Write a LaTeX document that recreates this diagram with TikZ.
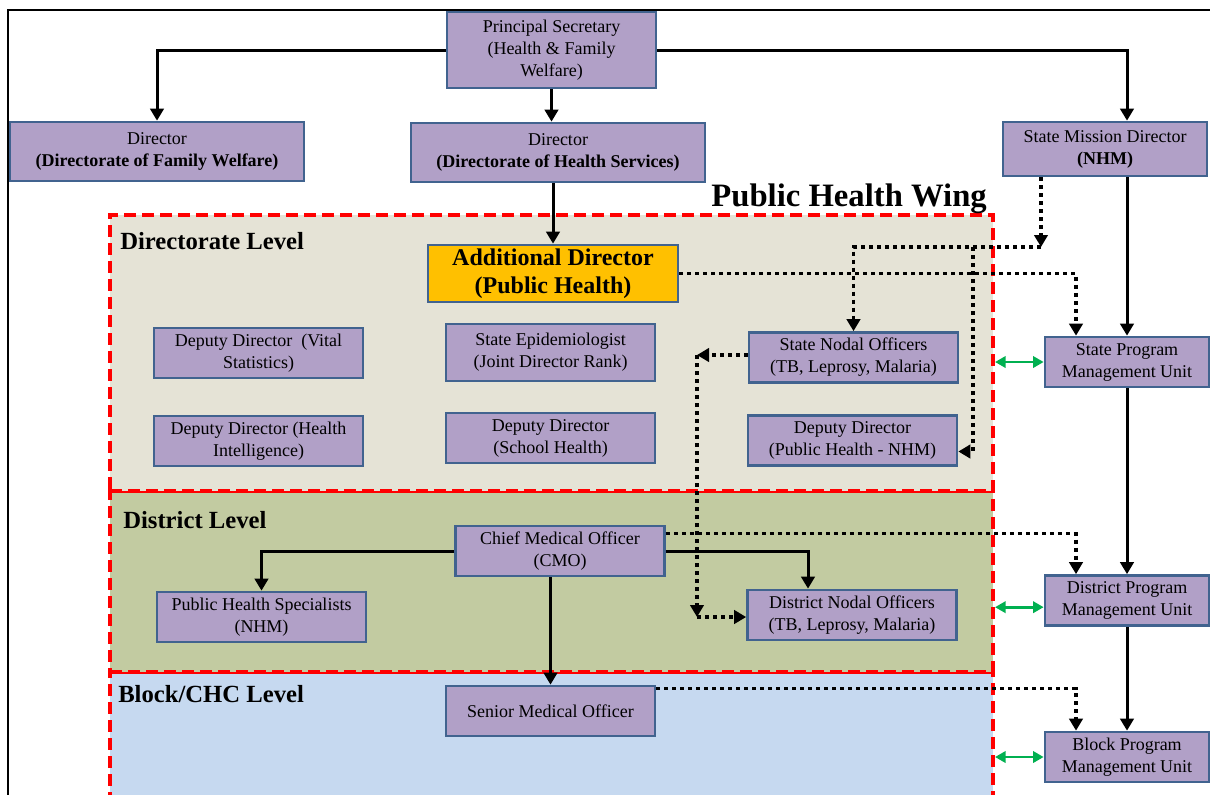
\documentclass[tikz,border=0pt]{standalone}
\usepackage{fontspec}
\setmainfont{Liberation Serif}
\usetikzlibrary{arrows.meta}

\definecolor{boxfill}{RGB}{177,160,199}
\definecolor{boxline}{RGB}{65,99,143}
\definecolor{adirfill}{RGB}{255,192,0}
\definecolor{dirfill}{RGB}{229,227,214}
\definecolor{distfill}{RGB}{194,203,161}
\definecolor{blockfill}{RGB}{198,217,240}
\definecolor{linkgreen}{RGB}{0,176,80}

\tikzset{
  office/.style={draw=boxline, fill=boxfill, line width=2pt, align=center, inner sep=1pt,
    font=\fontsize{13.5}{16.5}\selectfont, minimum width=156.75pt, minimum height=37.5pt},
  pmu/.style={office, minimum width=123pt},
  level/.style={draw=red, line width=3pt, dash pattern=on 9pt off 4.5pt, inner sep=0pt,
    minimum width=662.25pt},
  lvltext/.style={font=\fontsize{18.5}{22}\selectfont\bfseries, inner sep=0pt},
  wingtext/.style={font=\fontsize{24.5}{29}\selectfont\bfseries, inner sep=0pt},
  link/.style={line width=2.25pt, -{Triangle[length=9pt,width=10pt]}},
  dotlink/.style={line width=2.5pt, dash pattern=on 3pt off 3pt, -{Triangle[length=9pt,width=10pt]}},
  twoway/.style={draw=linkgreen, line width=2pt, {Triangle[length=8pt,width=8.5pt]}-{Triangle[length=8pt,width=8.5pt]}}
}

\begin{document}
\begin{tikzpicture}[x=0.75pt,y=-0.75pt]
\useasboundingbox (0,0) rectangle (1210,794);
\clip (0,0) rectangle (1210,794);

% frame
\draw[line width=1.2pt] (8,800) -- (8,10) -- (1215,10);

% levels of the public health wing
\node[level, fill=blockfill, minimum height=111pt] (blocklvl) at (551.5,746) {};
\node[level, fill=distfill, minimum height=135.75pt] (distlvl) at (551.5,581.5) {};
\node[level, fill=dirfill, minimum height=207pt] (dirlvl) at (551.5,353) {};
\node[lvltext, anchor=west] (dirlbl) at (120,241) {Directorate Level};
\node[lvltext, anchor=west] (distlbl) at (123,520) {District Level};
\node[lvltext, anchor=west] (blocklbl) at (118,694) {Block/CHC Level};
\node[wingtext, anchor=base east] (winglbl) at (987,206) {Public Health Wing};

% offices
\node[office, minimum height=57pt] (ps) at (551.5,50) {Principal Secretary\\(Health \& Family\\Welfare)};
\node[office, minimum width=220.5pt, minimum height=44.25pt] (dfw) at (157,151.5) {Director\\\textbf{(Directorate of Family Welfare)}};
\node[office, minimum width=220.5pt, minimum height=44.25pt] (dhs) at (558,152.5) {Director\\\textbf{(Directorate of Health Services)}};
\node[office, minimum width=153pt, minimum height=40.5pt] (smd) at (1105,149) {State Mission Director\\\textbf{(NHM)}};
\node[office, fill=adirfill, minimum width=187.5pt, minimum height=42.75pt,
  font=\fontsize{18}{21}\selectfont\bfseries] (adir) at (553,273.5) {Additional Director\\(Public Health)};
\node[office] (ddvs) at (258.5,353) {Deputy Director\ \ (Vital\\Statistics)};
\node[office, minimum height=42.75pt] (sepi) at (550.5,352.5) {State Epidemiologist\\(Joint Director Rank)};
\node[office] (sno) at (853.5,357.5) {State Nodal Officers\\(TB, Leprosy, Malaria)};
\node[office] (ddhi) at (258.5,441) {Deputy Director (Health\\Intelligence)};
\node[office] (ddsh) at (550.5,438) {Deputy Director\\(School Health)};
\node[office] (ddph) at (852.5,440.5) {Deputy Director\\(Public Health - NHM)};
\node[pmu] (spmu) at (1127,362) {State Program\\Management Unit};
\node[office] (cmo) at (560,551) {Chief Medical Officer\\(CMO)};
\node[office] (phs) at (261.5,617) {Public Health Specialists\\(NHM)};
\node[office] (dno) at (852,615) {District Nodal Officers\\(TB, Leprosy, Malaria)};
\node[pmu] (dpmu) at (1127,600.5) {District Program\\Management Unit};
\node[office] (smo) at (550.5,711) {Senior Medical Officer};
\node[pmu] (bpmu) at (1127,757) {Block Program\\Management Unit};

% bends of the dotted lines
\coordinate (smdfork) at (1041,247);
\coordinate (ddfork) at (973,247);
\coordinate (pmux) at (1076,0);
\coordinate (snobend) at (697,355);
\coordinate (dnobend) at (697,617);

% reporting lines
\draw[link] (ps.west) -| (dfw.north);
\draw[link] (ps.east) -| (spmu.north |- smd.north);
\draw[link] (ps.south) -- (ps.south |- dhs.north);
\draw[link] (adir.north |- dhs.south) -- (adir.north);
\draw[link] (spmu.north |- smd.south) -- (spmu.north);
\draw[link] (spmu.south) -- (dpmu.north);
\draw[link] (dpmu.south) -- (bpmu.north);
\draw[link] (cmo.west) -| (phs.north);
\draw[link] (cmo.east) -| ([xshift=-33pt]dno.north);
\draw[link] (smo.north |- cmo.south) -- (smo.north);

% coordination lines
\draw[dotlink] (smd.south -| smdfork) -- (smdfork);
\draw[dotlink] (smdfork) -| (sno.north);
\draw[dotlink] (ddfork) |- ([yshift=-8.25pt]ddph.east);
\draw[dotlink] (adir.east) -| (spmu.north -| pmux);
\draw[dotlink] (sno.west |- snobend) -- (snobend);
\draw[dotlink] (snobend) -- (dnobend);
\draw[dotlink] (dnobend) -- (dno.west |- dnobend);
\draw[dotlink] ([yshift=-6.75pt]cmo.north east) -| (dpmu.north -| pmux);
\draw[dotlink] ([yshift=-3pt]smo.north east) -| (bpmu.north -| pmux);

% program management units
\draw[twoway] (spmu.west) -- (spmu.west -| dirlvl.east);
\draw[twoway] ([yshift=-5pt]dpmu.west) -- ([yshift=-5pt]dpmu.west -| distlvl.east);
\draw[twoway] (bpmu.west) -- (bpmu.west -| blocklvl.east);
\end{tikzpicture}
\end{document}
